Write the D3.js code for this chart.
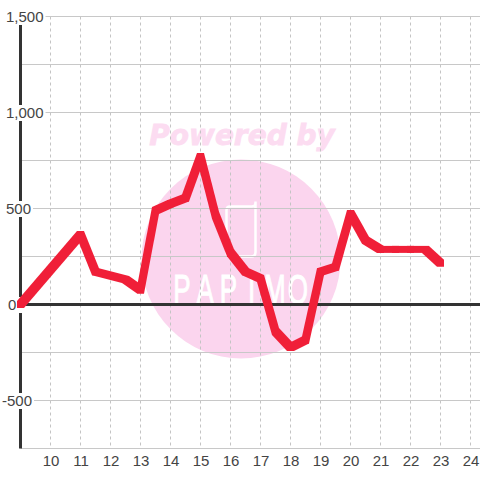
<!DOCTYPE html>
<html>
<head>
<meta charset="utf-8">
<script src="https://cdn.jsdelivr.net/npm/d3@7"></script>
<style>
  html, body { margin: 0; padding: 0; background: #fff; }
  svg { display: block; }
</style>
</head>
<body>
<div id="chart"></div>
<script>
// Hourly values
const hours = [9, 11, 11.5, 12.5, 13, 13.5, 14, 14.5, 15, 15.5, 16, 16.5, 17, 17.5, 18, 18.5, 19, 19.5, 20, 20.5, 21, 21.5, 22, 22.5, 23];
const values = [0, 365, 170, 130, 75, 490, 525, 555, 771, 465, 270, 170, 135, -140, -224, -185, 170, 195, 474, 335, 287, 287, 287, 287, 215];
const xTicks = [10, 11, 12, 13, 14, 15, 16, 17, 18, 19, 20, 21, 22, 23, 24];
const yLabels = [-500, 0, 500, 1000, 1500];
const yGrid = [-750, -500, -250, 0, 250, 500, 750, 1000, 1250, 1500];
const logoLetters = ["P", "A", "P", "I", "M", "O"];

const width = 480, height = 480;
const fontFamily = "'Liberation Sans', Arial, sans-serif";
const x = d3.scaleLinear().domain([9, 25]).range([20.5, 500.5]);
const y = d3.scaleLinear().domain([-750, 1500]).range([448.5, 16.5]);
// logo letters are spread out evenly across the circle
const logoX = d3.scalePoint().domain(d3.range(logoLetters.length)).range([182, 298]);

const svg = d3.select("#chart").append("svg")
  .attr("width", width)
  .attr("height", height);

// Watermark sits under the grid
const mark = svg.append("g");
mark.append("circle")
  .attr("cx", 241).attr("cy", 259).attr("r", 99.5)
  .attr("fill", "#fbd5ee");
mark.append("text")
  .attr("x", 242).attr("y", 145)
  .attr("text-anchor", "middle")
  .style("font-family", "'DejaVu Sans', sans-serif")
  .style("font-size", "28px")
  .style("font-weight", "bold")
  .style("font-style", "italic")
  .style("fill", "#fcdcf1")
  .style("stroke", "#fcdcf1")
  .style("stroke-width", 0.8)
  .text("Powered by");
mark.append("path")
  .attr("d", "M230 206.500H252Q255.500 206.500 255.500 203V201.500V252Q255.500 256.500 251 256.500H231Q226.500 256.500 226.500 252V210Q226.500 206.500 230 206.500Z")
  .attr("fill", "none")
  .attr("stroke", "#fff")
  .attr("stroke-width", 2.5)
  .attr("stroke-linecap", "round");
mark.selectAll("text.logo")
  .data(logoLetters)
  .join("text")
  .attr("class", "logo")
  .attr("transform", (d, i) => `translate(${logoX(i)},304) scale(0.62,1)`)
  .attr("text-anchor", "middle")
  .style("font-family", fontFamily)
  .style("font-size", "42px")
  .style("fill", "#fff")
  .style("stroke", "#fff")
  .style("stroke-width", 1)
  .text(d => d);

// Grid
const grid = svg.append("g");
grid.selectAll("line.v")
  .data(xTicks)
  .join("line")
  .attr("class", "v")
  .attr("x1", d => x(d)).attr("x2", d => x(d))
  .attr("y1", y(1500)).attr("y2", y(-750))
  .attr("stroke", "#c4c4c4")
  .attr("stroke-dasharray", "3,3");
grid.selectAll("line.h")
  .data(yGrid)
  .join("line")
  .attr("class", "h")
  .attr("x1", x(9)).attr("x2", width)
  .attr("y1", d => y(d)).attr("y2", d => y(d))
  .attr("stroke", "#c8c8c8")
  .attr("stroke-width", 1.2);

// Heavy zero lines
svg.append("line")
  .attr("x1", x(9)).attr("x2", width)
  .attr("y1", y(0)).attr("y2", y(0))
  .attr("stroke", "#333").attr("stroke-width", 3);
svg.append("line")
  .attr("x1", x(9)).attr("x2", x(9))
  .attr("y1", y(1500)).attr("y2", y(-750))
  .attr("stroke", "#333").attr("stroke-width", 3);

// Axes
const xAxis = svg.append("g")
  .attr("transform", `translate(0,${y(-750)})`)
  .call(d3.axisBottom(x).tickValues(xTicks).tickSize(0).tickPadding(7).tickFormat(d3.format("d")));
xAxis.select(".domain").remove();
xAxis.selectAll(".tick text")
  .style("font-family", fontFamily)
  .style("font-size", "15px")
  .style("fill", "#444");

const yAxis = svg.append("g")
  .call(d3.axisLeft(y).tickValues(yLabels).tickSize(0).tickFormat(d => d3.format(",")(d).replace("\u2212", "-")));
yAxis.select(".domain").remove();
yAxis.selectAll(".tick text")
  .attr("x", d => d < 0 ? 2 : d === 0 ? 8 : 6)
  .attr("text-anchor", "start")
  .style("font-family", fontFamily)
  .style("font-size", "15px")
  .style("fill", "#444");

// White box behind each y label hides the grid and axis there
yAxis.selectAll(".tick").each(function(d) {
  const b = d3.select(this).select("text").node().getBBox();
  const boxX = b.x - 2;
  const boxW = d === 0 ? 25 - boxX : b.width + 4;
  d3.select(this).insert("rect", "text")
    .attr("x", boxX)
    .attr("y", -8)
    .attr("width", boxW)
    .attr("height", 16)
    .attr("fill", "#fff");
});

// Series: the original pen is a square brush, so each segment is the hull
// of a 7px square swept between its two points
const brush = 3.5;
const segments = d3.pairs(d3.range(hours.length)).map(([a, b]) => {
  const corners = [];
  [a, b].forEach(i => {
    [-brush, brush].forEach(dx => [-brush, brush].forEach(dy => {
      corners.push([x(hours[i]) + dx, y(values[i]) + dy]);
    }));
  });
  return d3.polygonHull(corners);
});

svg.append("g").selectAll("path")
  .data(segments)
  .join("path")
  .attr("d", d => `M${d.join("L")}Z`)
  .attr("fill", "#f01f38");
</script>
</body>
</html>
